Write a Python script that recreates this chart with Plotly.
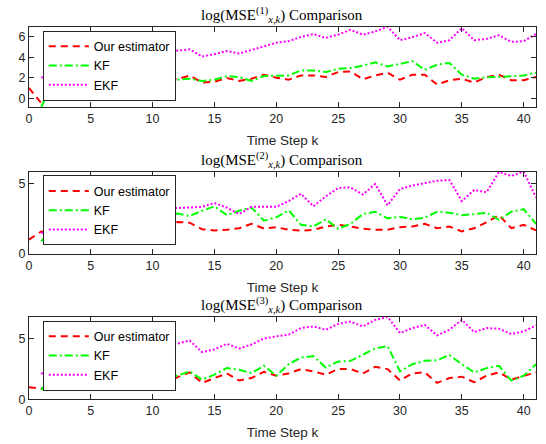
import plotly.graph_objects as go

# Time steps
k = list(range(42))

# Panel 1: log(MSE^(1))
est1 = [1.0, -0.48, 1.0, 1.17, 1.33, 1.65, 1.7, 1.75, 1.8, 1.7, 1.9, 1.9, 1.85, 2.2, 1.52, 1.6,
        1.97, 1.68, 1.9, 2.29, 2.0, 1.8, 2.22, 2.22, 2.06, 2.54, 2.6, 1.84, 2.22, 2.48, 1.8,
        2.29, 2.29, 1.33, 1.75, 1.9, 1.52, 2.06, 2.29, 1.75, 1.75, 2.06]
kf1 = [None, -0.89, 1.7, 1.9, 2.0, 1.8, 2.1, 2.0, 1.9, 2.2, 2.0, 2.1, 1.8, 1.9, 1.68, 1.8,
       2.16, 2.06, 1.68, 2.16, 2.16, 2.22, 2.7, 2.7, 2.54, 2.86, 2.95, 3.17, 3.49, 3.1, 3.33,
       3.62, 2.76, 3.27, 3.43, 2.29, 1.9, 2.03, 2.06, 2.13, 2.22, 2.48]
ekf1 = [None, 2.0, 2.3, 3.0, 3.3, 3.5, 3.8, 3.6, 4.0, 4.2, 4.1, 4.5, 4.6, 4.76, 4.06, 4.29,
        4.6, 4.35, 4.7, 5.08, 5.4, 5.55, 5.97, 6.25, 5.87, 6.19, 6.67, 6.19, 6.5, 6.96, 5.65,
        5.94, 6.35, 5.4, 5.65, 6.83, 5.65, 5.78, 6.13, 5.49, 5.55, 6.25]

# Panel 2: log(MSE^(2))
est2 = [1.0, 1.58, 1.47, 1.4, 1.47, 2.0, 2.2, 2.05, 1.63, 1.65, 1.98, 1.86, 2.25, 2.2, 1.74,
        1.65, 1.7, 1.81, 2.12, 1.79, 1.88, 1.7, 1.63, 1.7, 1.93, 2.05, 1.93, 1.77, 1.7, 1.7,
        1.88, 1.93, 2.12, 1.81, 1.93, 1.58, 1.81, 2.23, 2.74, 1.81, 2.05, 1.65]
kf2 = [None, 0.88, 1.8, 2.2, 2.4, 2.6, 2.5, 2.8, 2.6, 2.9, 3.0, 2.8, 2.85, 2.67, 3.05, 3.37,
       2.74, 3.05, 3.28, 2.35, 2.58, 3.09, 2.05, 1.93, 2.44, 1.77, 2.12, 2.81, 2.98, 2.51,
       2.63, 2.44, 2.56, 2.98, 2.91, 2.74, 2.81, 2.91, 2.4, 2.98, 3.16, 2.12]
ekf2 = [None, 1.47, 1.58, 1.28, 1.7, 2.1, 2.5, 2.8, 2.7, 3.0, 3.1, 3.2, 3.25, 3.28, 3.33,
        3.6, 3.28, 2.81, 3.33, 3.33, 3.33, 3.74, 4.26, 3.37, 4.07, 4.67, 4.72, 4.21, 4.95,
        3.44, 4.6, 4.84, 5.0, 5.19, 5.23, 3.74, 4.53, 4.37, 5.81, 5.53, 5.84, 3.98]

# Panel 3: log(MSE^(3))
est3 = [1.0, 0.87, 1.14, 1.36, 1.33, 1.47, 2.09, 2.4, 1.68, 1.74, 2.23, 1.47, 1.82, 2.23,
        1.36, 1.76, 2.14, 1.55, 1.76, 2.28, 1.95, 2.14, 2.5, 2.31, 2.04, 2.5, 2.5, 2.14, 2.69,
        2.5, 1.55, 2.14, 2.23, 1.36, 1.76, 1.87, 1.41, 1.95, 2.23, 1.63, 1.95, 2.23]
kf3 = [None, 0.79, 2.09, 2.6, 2.6, 1.49, 2.23, 2.36, 2.5, 2.6, 2.7, 2.04, 1.95, 2.31, 1.63,
       2.04, 2.58, 2.44, 2.17, 2.77, 1.95, 2.9, 3.45, 3.58, 2.63, 3.12, 3.18, 3.72, 4.21, 4.4,
       2.31, 2.9, 3.18, 3.23, 3.66, 2.9, 2.23, 2.58, 2.77, 1.55, 1.95, 2.9]
ekf3 = [None, 2.09, 2.8, 3.2, 3.6, 3.9, 4.1, 4.3, 4.0, 4.4, 4.6, 4.5, 4.6, 4.86, 3.91, 4.13,
        4.59, 4.21, 4.53, 5.02, 5.21, 5.35, 5.89, 6.03, 5.75, 6.24, 6.43, 6.03, 6.57, 6.82,
        5.48, 5.89, 6.16, 5.29, 5.75, 6.57, 5.56, 5.89, 5.84, 5.4, 5.62, 6.11]

series_names = ["Our estimator", "KF", "EKF"]
panel_data = [(est1, kf1, ekf1), (est2, kf2, ekf2), (est3, kf3, ekf3)]
y_ranges = [[-0.89, 6.98], [0, 5.84], [0, 6.84]]
y_ticks = [[0, 2, 4, 6], [0, 5], [0, 5]]
x_ticks = [0, 5, 10, 15, 20, 25, 30, 35, 40]
titles = [
    "log(MSE<sup>(1)</sup><sub><i>x,k</i></sub>) Comparison",
    "log(MSE<sup>(2)</sup><sub><i>x,k</i></sub>) Comparison",
    "log(MSE<sup>(3)</sup><sub><i>x,k</i></sub>) Comparison",
]

W, H = 546, 444
x_dom = [26 / W, 536 / W]
# (top px, bottom px) of each axes box
boxes = [(27, 109), (174.3, 257.7), (321.7, 405.7)]

styles = [
    dict(color="#FF0000", dash="7px,5px"),
    dict(color="#00FF00", dash="8px,3px,2px,3px"),
    dict(color="#FF00FF", dash="2px,2px"),
]

fig = go.Figure()
axis_color = "#262626"
sans = "Liberation Sans, Arial, sans-serif"

for p, data in enumerate(panel_data):
    sfx = "" if p == 0 else str(p + 1)
    leg = "legend" + sfx
    for name, vals, st in zip(series_names, data, styles):
        fig.add_trace(go.Scatter(
            x=k, y=vals, mode="lines", name=name,
            line=dict(color=st["color"], dash=st["dash"], width=2),
            xaxis="x" + sfx, yaxis="y" + sfx, legend=leg,
            connectgaps=False,
        ))
    top, bot = boxes[p]
    ydom = [1 - bot / H, 1 - top / H]
    common = dict(
        showline=True, linecolor=axis_color, linewidth=1, mirror="ticks",
        ticks="inside", ticklen=5, tickcolor=axis_color, tickwidth=1,
        showgrid=False, zeroline=False,
        tickfont=dict(family=sans, size=12.5, color=axis_color),
    )
    fig.update_layout(**{
        "xaxis" + sfx: dict(
            domain=x_dom, range=[0, 41], tickvals=x_ticks,
            anchor="y" + sfx,
            title=dict(text="Time Step k", font=dict(family=sans, size=13.5, color=axis_color),
                       standoff=10),
            **common,
        ),
        "yaxis" + sfx: dict(
            domain=ydom, range=y_ranges[p], tickvals=y_ticks[p],
            anchor="x" + sfx,
            **common,
        ),
        leg: dict(
            x=40 / W, y=1 - (top + 4) / H, xanchor="left", yanchor="top",
            bgcolor="white", bordercolor=axis_color, borderwidth=1,
            font=dict(family=sans, size=12.5, color="black"),
            itemwidth=40, tracegroupgap=0,
        ),
    })
    fig.add_annotation(
        text=titles[p], xref="paper", yref="paper",
        x=(x_dom[0] + x_dom[1]) / 2, y=ydom[1], xanchor="center", yanchor="bottom",
        yshift=0, showarrow=False,
        font=dict(family="Liberation Serif, Times New Roman, serif", size=15, color="black"),
    )

fig.update_layout(
    width=W, height=H,
    margin=dict(l=0, r=0, t=0, b=0),
    paper_bgcolor="white", plot_bgcolor="white",
    showlegend=True,
)

fig.write_html("out.html")
